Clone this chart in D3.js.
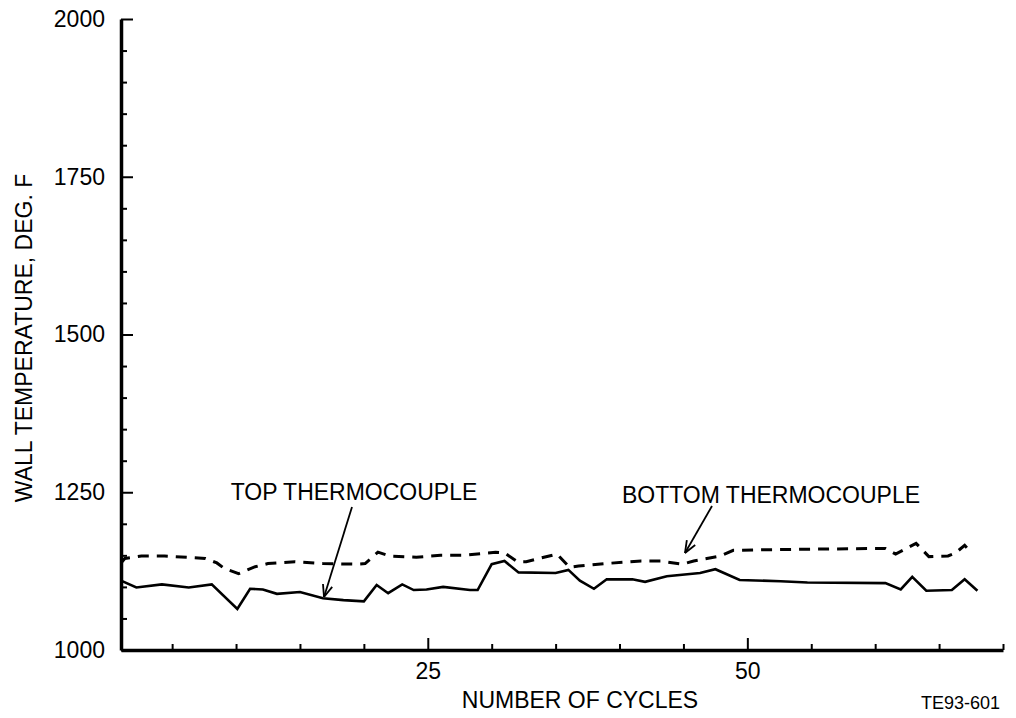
<!DOCTYPE html>
<html>
<head>
<meta charset="utf-8">
<script src="https://cdn.jsdelivr.net/npm/d3@7/dist/d3.min.js"></script>
<style>
  body { margin: 0; background: #fff; }
  svg { display: block; }
  text { font-family: "Liberation Sans", Arial, Helvetica, sans-serif; fill: #000; }
</style>
</head>
<body>
<svg id="chart" width="1016" height="718"></svg>
<script>
// ---- data ----
const topCycles = [1, 2.2, 4.2, 6.3, 8.1, 10.1, 11.1, 12.1, 13.2, 15, 16.8, 18.4, 20, 21, 21.9, 23, 23.9, 24.9, 26.2, 28.3, 28.9, 30, 31, 32.1, 35, 36, 36.9, 38, 39, 41, 42, 43.7, 46.3, 47.5, 49.4, 52.6, 54.7, 60.8, 62, 62.9, 64, 66, 67, 68];
const topTemps  = [1110, 1099, 1104, 1099, 1104, 1065, 1097, 1096, 1089, 1092, 1082, 1079, 1077, 1103, 1090, 1104, 1095, 1096, 1100, 1095, 1095, 1136, 1141, 1123, 1122, 1127, 1110, 1097, 1112, 1112, 1108, 1117, 1122, 1128, 1111, 1109, 1107, 1106, 1096, 1116, 1094, 1095, 1112, 1094];

const bottomCycles = [1, 1.3, 2.6, 4.4, 7.6, 8.5, 9.1, 10.2, 11.5, 12.5, 14.6, 16.8, 19.4, 20.1, 21.1, 22, 24.1, 26, 27.8, 30.3, 31, 32, 32.7, 35.1, 36.1, 36.8, 38.9, 41.7, 43.2, 44.9, 45.8, 47.9, 48.9, 52, 55.7, 60.8, 61.6, 63.2, 64.2, 65.7, 66.3, 67, 67.4];
const bottomTemps  = [1138, 1145, 1149, 1149, 1145, 1138, 1129, 1121, 1132, 1137, 1140, 1137, 1136, 1137, 1155, 1149, 1147, 1150, 1150, 1155, 1154, 1140, 1140, 1152, 1131, 1133, 1137, 1141, 1141, 1136, 1141, 1149, 1158, 1159, 1160, 1161, 1152, 1169, 1148, 1149, 1154, 1166, 1157];

const yMajorTicks = [1000, 1250, 1500, 1750, 2000];
const yMinorTicks = d3.range(1050, 2000, 50).filter(v => v % 250 !== 0);
const xMajorTicks = [25, 50];
const xMinorTicks = [5, 10, 15, 20, 30, 35, 40, 45, 55, 60, 65, 70];

const xDomain = [1, 70];
const yDomain = [1000, 2000];

const labels = {
  yTitle: "WALL TEMPERATURE, DEG. F",
  xTitle: "NUMBER OF CYCLES",
  top: "TOP THERMOCOUPLE",
  bottom: "BOTTOM THERMOCOUPLE",
  id: "TE93-601"
};

// ---- layout ----
const svg = d3.select("#chart");
const mLeft = 121, mRight = 1003, mTop = 19, mBottom = 650;

const x = d3.scaleLinear().domain(xDomain).range([mLeft, mRight]);
const y = d3.scaleLinear().domain(yDomain).range([mBottom, mTop]);
const fmt = d3.format("d");

// minor y ticks
svg.append("g")
  .attr("transform", `translate(${mLeft},0)`)
  .call(d3.axisLeft(y).tickValues(yMinorTicks).tickSize(-6).tickFormat(""))
  .call(g => g.select(".domain").remove())
  .call(g => g.selectAll("line").attr("stroke-width", 2));

// major y axis
svg.append("g")
  .attr("transform", `translate(${mLeft},0)`)
  .call(d3.axisLeft(y).tickValues(yMajorTicks).tickFormat(fmt).tickSizeInner(-12).tickSizeOuter(0).tickPadding(16))
  .call(g => g.select(".domain").attr("stroke-width", 3.5))
  .call(g => g.selectAll("line").attr("stroke-width", 2))
  .call(g => g.selectAll("text").attr("font-size", 23).style("font-family", '"Liberation Sans", Arial, sans-serif'));

// minor x ticks
svg.append("g")
  .attr("transform", `translate(0,${mBottom})`)
  .call(d3.axisBottom(x).tickValues(xMinorTicks).tickSize(-6).tickFormat(""))
  .call(g => g.select(".domain").remove())
  .call(g => g.selectAll("line").attr("stroke-width", 2));

// major x axis
svg.append("g")
  .attr("transform", `translate(0,${mBottom})`)
  .call(d3.axisBottom(x).tickValues(xMajorTicks).tickFormat(fmt).tickSizeInner(-12).tickSizeOuter(0).tickPadding(13))
  .call(g => g.select(".domain").attr("stroke-width", 3.5))
  .call(g => g.selectAll("line").attr("stroke-width", 2))
  .call(g => g.selectAll("text").attr("font-size", 23).style("font-family", '"Liberation Sans", Arial, sans-serif'));

// lines
const line = d3.line().x(d => x(d[0])).y(d => y(d[1]));
const topData = topCycles.map((c, i) => [c, topTemps[i]]);
const bottomData = bottomCycles.map((c, i) => [c, bottomTemps[i]]);

svg.append("path").datum(topData)
  .attr("d", line).attr("fill", "none").attr("stroke", "#000")
  .attr("stroke-width", 2.6).attr("stroke-linejoin", "miter");

svg.append("path").datum(bottomData)
  .attr("d", line).attr("fill", "none").attr("stroke", "#000")
  .attr("stroke-width", 3).attr("stroke-dasharray", "11,8");

// titles
svg.append("text")
  .attr("transform", `translate(32,338) rotate(-90)`)
  .attr("text-anchor", "middle")
  .attr("font-size", 23)
  .text(labels.yTitle);

svg.append("text")
  .attr("x", 580).attr("y", 708)
  .attr("text-anchor", "middle")
  .attr("font-size", 23)
  .text(labels.xTitle);

svg.append("text")
  .attr("x", 1000).attr("y", 709)
  .attr("text-anchor", "end")
  .attr("font-size", 18)
  .text(labels.id);

// annotations
function arrow(x1, y1, x2, y2) {
  svg.append("line").attr("x1", x1).attr("y1", y1).attr("x2", x2).attr("y2", y2)
    .attr("stroke", "#000").attr("stroke-width", 1.8);
  const ang = Math.atan2(y2 - y1, x2 - x1);
  const len = 13, spread = 0.38;
  [ang + Math.PI - spread, ang + Math.PI + spread].forEach(a => {
    svg.append("line")
      .attr("x1", x2).attr("y1", y2)
      .attr("x2", x2 + len * Math.cos(a)).attr("y2", y2 + len * Math.sin(a))
      .attr("stroke", "#000").attr("stroke-width", 1.8);
  });
}

svg.append("text")
  .attr("x", 354).attr("y", 500)
  .attr("text-anchor", "middle")
  .attr("font-size", 23)
  .text(labels.top);
arrow(352, 507, 324, 597);

svg.append("text")
  .attr("x", 771).attr("y", 503)
  .attr("text-anchor", "middle")
  .attr("font-size", 23)
  .text(labels.bottom);
arrow(712, 506, 685, 553);
</script>
</body>
</html>
